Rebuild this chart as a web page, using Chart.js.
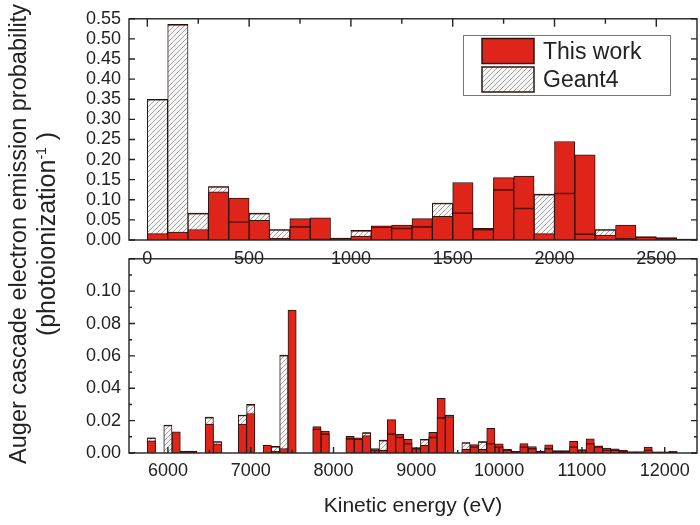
<!DOCTYPE html>
<html>
<head>
<meta charset="utf-8">
<script src="https://cdn.jsdelivr.net/npm/chart.js@4.4.0/dist/chart.umd.min.js"></script>
<style>
  html, body { margin: 0; padding: 0; background: #fff; }
  #wrap { position: relative; width: 700px; height: 525px; overflow: hidden; font-family: "Liberation Sans", Arial, sans-serif; color: #222; }
  .panel { position: absolute; left: 0; width: 700px; }
  #topPanel { top: 0; height: 280px; }
  #bottomPanel { top: 240px; height: 285px; }
  #yTitle {
    position: absolute; left: -218px; top: 206px; width: 500px; height: 56px;
    text-align: center; line-height: 28px;
    transform: rotate(-90deg); white-space: nowrap;
  }
  #yTitle .l1 { font-size: 23.5px; }
  #yTitle .l2 { font-size: 25px; }
  #yTitle sup { font-size: 14px; line-height: 0; }
</style>
</head>
<body>
<div id="wrap">
  <div id="topPanel" class="panel"><canvas id="topChart"></canvas></div>
  <div id="bottomPanel" class="panel"><canvas id="bottomChart"></canvas></div>
  <div id="yTitle">
    <div class="l1">Auger cascade electron emission probability</div>
    <div class="l2">(photoionization<sup>-1</sup> )</div>
  </div>
</div>
<script>
// low energy part, 100 eV bins
const topEnergy = [50, 150, 250, 350, 450, 550, 650, 750, 850, 950, 1050, 1150, 1250, 1350,
  1450, 1550, 1650, 1750, 1850, 1950, 2050, 2150, 2250, 2350, 2450, 2550, 2650];
const topThisWork = [0.016, 0.020, 0.026, 0.120, 0.104, 0.049, 0.004, 0.053, 0.055, 0.003, 0.010, 0.035, 0.037, 0.053,
  0.059, 0.143, 0.029, 0.155, 0.159, 0.016, 0.245, 0.212, 0.012, 0.037, 0.008, 0.006, 0.001];
const topGeant4 = [0.350, 0.536, 0.067, 0.133, 0.046, 0.067, 0.026, 0.034, 0.003, 0.005, 0.024, 0.033, 0.030, 0.034,
  0.092, 0.068, 0.027, 0.126, 0.080, 0.114, 0.117, 0.016, 0.026, 0.004, 0.008, 0.004, 0.002];
const topXTicks = [0, 500, 1000, 1500, 2000, 2500];
const topYTicks = [0, 0.05, 0.10, 0.15, 0.20, 0.25, 0.30, 0.35, 0.40, 0.45, 0.50, 0.55];

// high energy part
const bottomEnergy = [5800, 6000, 6100, 6200, 6300, 6500, 6600, 6900, 7000, 7200, 7300, 7400, 7500, 7800,
  7900, 8200, 8300, 8400, 8500, 8600, 8700, 8800, 8900, 9000, 9100, 9200, 9300, 9400,
  9600, 9700, 9800, 9900, 10000, 10100, 10200, 10300, 10400, 10500, 10600, 10700, 10800, 10900,
  11000, 11100, 11200, 11300, 11400, 11500, 11600, 11700, 11800, 11900, 12000, 12100];
const bottomThisWork = [0.0075, 0, 0.0131, 0.0012, 0.0012, 0.0178, 0.0056, 0.0178, 0.0244, 0.0047, 0.0010, 0.0028, 0.0883, 0.0163,
  0.0135, 0.0103, 0.0094, 0.0107, 0.0028, 0.0017, 0.0206, 0.0116, 0.0085, 0.0034, 0.0047, 0.0127, 0.0338, 0.0225,
  0.0023, 0.0052, 0.0022, 0.0152, 0.0056, 0.0024, 0.0010, 0.0058, 0.0040, 0.0010, 0.0050, 0.0015, 0.0015, 0.0072,
  0.0020, 0.0087, 0.0045, 0.0030, 0.0025, 0.0018, 0.0008, 0.0008, 0.0036, 0.0008, 0.0008, 0.0010];
const bottomGeant4 = [0.0094, 0.0173, 0, 0.0010, 0.0010, 0.0222, 0.0071, 0.0235, 0.0300, 0, 0.0041, 0.0605, 0, 0.0150,
  0.0120, 0.0090, 0.0088, 0.0126, 0.0020, 0.0080, 0.0120, 0.0100, 0.0060, 0.0030, 0.0085, 0.0100, 0.0220, 0.0234,
  0.0065, 0.0040, 0.0070, 0.0060, 0.0040, 0.0020, 0.0010, 0.0040, 0.0030, 0.0010, 0.0030, 0.0010, 0.0010, 0.0040,
  0.0020, 0.0060, 0.0040, 0.0020, 0.0020, 0.0010, 0.0008, 0.0008, 0.0020, 0.0006, 0.0006, 0.0008];
const bottomXTicks = [6000, 7000, 8000, 9000, 10000, 11000, 12000];
const bottomYTicks = [0, 0.02, 0.04, 0.06, 0.08, 0.10];

const FONT = '"Liberation Sans", Arial, sans-serif';
const INK = '#222';
const RED = '#df2519';
const EDGE = '#2a1512';

// grey "////" fill for the Geant4 bars
function hatch() {
  const c = document.createElement('canvas');
  c.width = 5; c.height = 5;
  const g = c.getContext('2d');
  g.fillStyle = '#f7f7f7';
  g.fillRect(0, 0, 5, 5);
  g.strokeStyle = '#a4a4a4';
  g.lineWidth = 1;
  g.beginPath();
  g.moveTo(0, 5); g.lineTo(5, 0);
  g.moveTo(-1, 1); g.lineTo(1, -1);
  g.moveTo(4, 6); g.lineTo(6, 4);
  g.stroke();
  return g.createPattern(c, 'repeat');
}
const HATCH = hatch();

function barSets(energy, thisWork, geant4) {
  const pts = (vals) => energy.map((e, i) => ({ x: e, y: vals[i] }));
  const shared = { grouped: false, barPercentage: 1, categoryPercentage: 1 };
  return [
    // Geant4 level seen as a dark line through the red bars
    Object.assign({ label: 'Geant4 level', data: pts(geant4), backgroundColor: 'rgba(0,0,0,0)',
      borderColor: 'rgba(50,8,4,0.75)', borderWidth: { top: 1, right: 0, bottom: 0, left: 0 }, order: 0 }, shared),
    Object.assign({ label: 'This work', inKey: true, data: pts(thisWork), backgroundColor: RED,
      borderColor: EDGE, borderWidth: 1, order: 1 }, shared),
    Object.assign({ label: 'Geant4', inKey: true, data: pts(geant4), backgroundColor: HATCH,
      borderColor: EDGE, borderWidth: 1, order: 2 }, shared)
  ];
}

// box around the plot plus inward tick marks on all sides
const frameTicks = {
  id: 'frameTicks',
  afterDatasetsDraw(chart, args, o) {
    const { ctx, chartArea: a, scales: { x, y } } = chart;
    const each = (scale, step, fn) => {
      const first = Math.ceil(scale.min / step - 1e-9);
      const last = Math.floor(scale.max / step + 1e-9);
      for (let k = first; k <= last; k++) fn(scale.getPixelForValue(k * step));
    };
    ctx.save();
    ctx.strokeStyle = INK;
    ctx.lineWidth = 1.4;
    ctx.beginPath();
    (o.y || []).forEach(([step, len]) => each(y, step, (py) => {
      ctx.moveTo(a.left, py); ctx.lineTo(a.left + len, py);
      ctx.moveTo(a.right, py); ctx.lineTo(a.right - len, py);
    }));
    (o.xTop || []).forEach(([step, len]) => each(x, step, (px) => {
      ctx.moveTo(px, a.top); ctx.lineTo(px, a.top + len);
    }));
    (o.xBottom || []).forEach(([step, len]) => each(x, step, (px) => {
      ctx.moveTo(px, a.bottom); ctx.lineTo(px, a.bottom - len);
    }));
    ctx.stroke();
    ctx.strokeRect(a.left, a.top, a.right - a.left, a.bottom - a.top);
    ctx.restore();
  }
};

// legend in a thin box, top right of the upper plot
const boxLegend = {
  id: 'boxLegend',
  afterDraw(chart, args, o) {
    if (!o.show) return;
    const ctx = chart.ctx;
    const items = chart.data.datasets.filter(d => d.inKey);
    ctx.save();
    ctx.fillStyle = '#fff';
    ctx.fillRect(o.x, o.y, o.w, o.h);
    ctx.strokeStyle = '#777';
    ctx.lineWidth = 1;
    ctx.strokeRect(o.x + 0.5, o.y + 0.5, o.w, o.h);
    items.forEach((d, i) => {
      const top = o.y + o.first + i * o.row;
      ctx.fillStyle = d.backgroundColor;
      ctx.fillRect(o.x + o.swX, top, o.swW, o.swH);
      ctx.strokeStyle = EDGE;
      ctx.lineWidth = 1.5;
      ctx.strokeRect(o.x + o.swX, top, o.swW, o.swH);
      ctx.fillStyle = INK;
      ctx.font = o.size + 'px ' + FONT;
      ctx.textBaseline = 'alphabetic';
      ctx.fillText(d.label, o.x + o.textX, top + o.base);
    });
    ctx.restore();
  }
};

function xScale(min, max, ticks, height, pad, title) {
  return {
    type: 'linear', min: min, max: max, offset: false,
    grid: { display: false, drawTicks: false },
    border: { display: false },
    afterBuildTicks: (s) => { s.ticks = ticks.map(v => ({ value: v })); },
    afterFit: (s) => { s.height = height; },
    ticks: { padding: pad, color: INK, font: { family: FONT, size: 18 }, maxRotation: 0, autoSkip: false,
      callback: (v) => String(v) },
    title: title
  };
}

function yScale(max, ticks) {
  return {
    min: 0, max: max,
    grid: { display: false, drawTicks: false },
    border: { display: false },
    afterBuildTicks: (s) => { s.ticks = ticks.map(v => ({ value: v })); },
    afterFit: (s) => { s.width = 129; },
    ticks: { padding: 8, color: INK, font: { family: FONT, size: 18 }, autoSkip: false,
      callback: (v) => v.toFixed(2) }
  };
}

new Chart(document.getElementById('topChart'), {
  type: 'bar',
  data: { datasets: barSets(topEnergy, topThisWork, topGeant4) },
  plugins: [frameTicks, boxLegend],
  options: {
    responsive: true, maintainAspectRatio: false, animation: false,
    layout: { padding: { left: 0, right: 3, top: 15, bottom: 0 } },
    scales: {
      x: xScale(-90, 2700, topXTicks, 40, 8, { display: false }),
      y: yScale(0.55, topYTicks)
    },
    plugins: {
      legend: { display: false },
      tooltip: { enabled: false },
      frameTicks: { y: [[0.05, 6]], xTop: [[500, 8], [250, 5]] },
      boxLegend: { show: true, x: 463, y: 35, w: 207, h: 60, first: 3.5, row: 28.5,
        swX: 19, swW: 52, swH: 25, textX: 80, base: 20, size: 23 }
    }
  }
});

new Chart(document.getElementById('bottomChart'), {
  type: 'bar',
  data: { datasets: barSets(bottomEnergy, bottomThisWork, bottomGeant4) },
  plugins: [frameTicks],
  options: {
    responsive: true, maintainAspectRatio: false, animation: false,
    layout: { padding: { left: 0, right: 3, top: 0, bottom: 0 } },
    scales: {
      x: xScale(5530, 12390, bottomXTicks, 72, 7, {
        display: true, text: 'Kinetic energy (eV)', color: INK,
        font: { family: FONT, size: 21 }, padding: { top: 0, bottom: 6 }
      }),
      y: yScale(0.12, bottomYTicks)
    },
    plugins: {
      legend: { display: false },
      tooltip: { enabled: false },
      frameTicks: { y: [[0.02, 6], [0.01, 3]], xBottom: [[1000, 6], [500, 3]] }
    }
  }
});
</script>
</body>
</html>
